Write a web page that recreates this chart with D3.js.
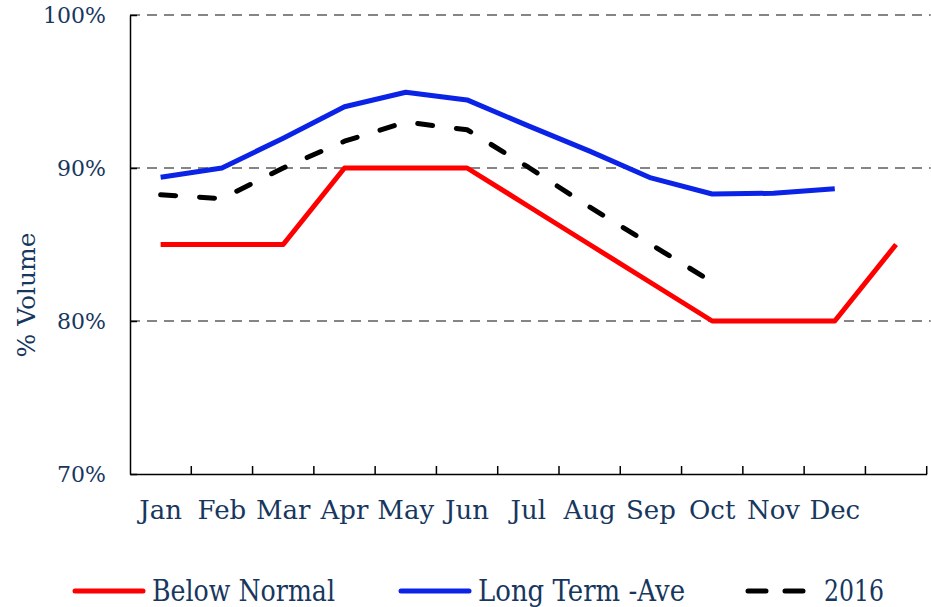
<!DOCTYPE html>
<html>
<head>
<meta charset="utf-8">
<script src="https://cdn.jsdelivr.net/npm/d3@7"></script>
<style>
  body { margin: 0; background: #fff; }
  text { font-family: "DejaVu Serif", serif; fill: #17375e; }
</style>
</head>
<body>
<div id="chart"></div>
<script>
// 13 slots: the twelve months plus an unlabeled one at the end
var months = ['Jan', 'Feb', 'Mar', 'Apr', 'May', 'Jun', 'Jul', 'Aug', 'Sep', 'Oct', 'Nov', 'Dec', ''];
var yTicks = [70, 80, 90, 100];

var belowNormal = [85, 85, 85, 90, 90, 90, 87.5, 85, 82.5, 80, 80, 80, 85];
var longTermAve = [89.4, 90.0, 91.95, 94.0, 94.95, 94.45, 92.75, 91.1, 89.35, 88.3, 88.35, 88.65];
var year2016 = [88.25, 88.0, 90.0, 91.75, 93.0, 92.5, 90.05, 87.45, 85.0, 82.55];

var series = [
    { name: 'Below Normal', values: belowNormal, color: '#ff0000', dash: null, textLen: 183 },
    { name: 'Long Term -Ave', values: longTermAve, color: '#0a23e6', dash: null, textLen: 207 },
    { name: '2016', values: year2016, color: '#000000', dash: '15,24', textLen: 60 }
];

var W = 931, H = 607;
var margin = { top: 15, left: 130 },
    width = 796.7,
    height = 459;

var svg = d3.select('#chart').append('svg')
    .attr('width', W)
    .attr('height', H);

var canvas = svg.append('g')
    .attr('transform', 'translate(' + margin.left + ',' + margin.top + ')');

var xScale = d3.scaleBand()
    .domain(d3.range(months.length))
    .range([0, width])
    .padding(0);

var yScale = d3.scaleLinear()
    .domain([70, 100])
    .range([height, 0]);

// gridlines
canvas.selectAll('.grid')
    .data(yTicks.filter(function (d) { return d > 70; }))
    .enter().append('line')
    .attr('class', 'grid')
    .attr('x1', 0)
    .attr('x2', width + 4)
    .attr('y1', function (d) { return yScale(d); })
    .attr('y2', function (d) { return yScale(d); })
    .attr('stroke', '#858585')
    .attr('stroke-width', 2)
    .attr('stroke-dasharray', '10,7');

// y axis
var yAxis = d3.axisLeft(yScale)
    .tickValues(yTicks)
    .tickSizeInner(-7)
    .tickSizeOuter(0)
    .tickPadding(24)
    .tickFormat(function (d) { return d + '%'; });

var yG = canvas.append('g').call(yAxis);
yG.select('.domain').attr('stroke', '#000').attr('stroke-width', 1.5);
yG.selectAll('.tick line').attr('stroke', '#000').attr('stroke-width', 1.5);
yG.selectAll('.tick text')
    .attr('fill', '#17375e')
    .style('font-size', '22px')
    .style('font-family', '"DejaVu Serif", serif');

// x axis: labels in band centers, ticks on band edges pointing up
var xAxis = d3.axisBottom(xScale)
    .tickSize(0)
    .tickPadding(27)
    .tickFormat(function (i) { return months[i]; });

var xG = canvas.append('g')
    .attr('transform', 'translate(0,' + height + ')')
    .call(xAxis);
xG.select('.domain').attr('stroke', '#000').attr('stroke-width', 1.5);
xG.selectAll('.tick text')
    .attr('fill', '#17375e')
    .style('font-size', '26px')
    .style('font-family', '"DejaVu Serif", serif');

xG.selectAll('.edge')
    .data(d3.range(months.length))
    .enter().append('line')
    .attr('class', 'edge')
    .attr('x1', function (i) { return xScale(i) + xScale.bandwidth(); })
    .attr('x2', function (i) { return xScale(i) + xScale.bandwidth(); })
    .attr('y1', 0)
    .attr('y2', -8)
    .attr('stroke', '#000')
    .attr('stroke-width', 1.5);

// y axis title
svg.append('text')
    .attr('transform', 'translate(35,' + (margin.top + height * 0.61) + ') rotate(-90)')
    .attr('text-anchor', 'middle')
    .style('font-size', '25px')
    .text('% Volume');

// lines
var line = d3.line()
    .x(function (d, i) { return xScale(i) + xScale.bandwidth() / 2; })
    .y(function (d) { return yScale(d); });

series.forEach(function (s) {
    canvas.append('path')
        .datum(s.values)
        .attr('fill', 'none')
        .attr('stroke', s.color)
        .attr('stroke-width', 5)
        .attr('stroke-linejoin', 'round')
        .attr('stroke-linecap', s.dash ? 'round' : 'butt')
        .attr('stroke-dasharray', s.dash)
        .attr('d', line);
});

// legend
var legendX = [73, 399, 746];
var legend = svg.append('g').attr('transform', 'translate(0,591)');

series.forEach(function (s, i) {
    var g = legend.append('g').attr('transform', 'translate(' + legendX[i] + ',0)');
    g.append('line')
        .attr('x1', 2).attr('x2', 70)
        .attr('y1', 0).attr('y2', 0)
        .attr('stroke', s.color)
        .attr('stroke-width', 5)
        .attr('stroke-linecap', 'round')
        .attr('stroke-dasharray', s.dash ? '18,19' : null);
    g.append('text')
        .attr('x', i === 2 ? 78 : 79)
        .attr('y', 10)
        .style('font-size', '29px')
        .attr('textLength', s.textLen)
        .attr('lengthAdjust', 'spacingAndGlyphs')
        .text(s.name);
});
</script>
</body>
</html>
